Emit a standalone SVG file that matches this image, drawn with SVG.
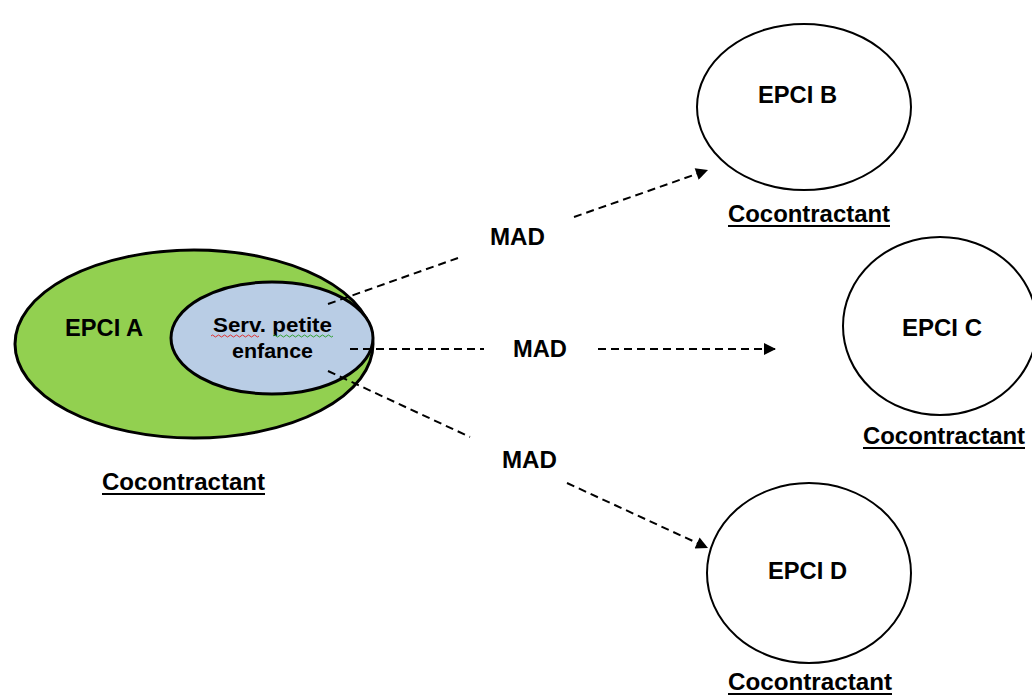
<svg xmlns="http://www.w3.org/2000/svg" width="1032" height="698" viewBox="0 0 1032 698">
  <style>
    .lbl { font-family: "Liberation Sans", Arial, sans-serif; font-weight: bold; fill: #000; }
    .big { font-size: 23px; }
    .mid { font-size: 20px; }
    .ul { stroke: #000; stroke-width: 2; }
    .circle { fill: #fff; stroke: #000; stroke-width: 2; }
    .dash { fill: none; stroke: #000; stroke-width: 2; stroke-dasharray: 8 5; }
  </style>
  <defs>
    <marker id="arrow" viewBox="0 0 10 10" refX="10" refY="5" markerWidth="7" markerHeight="6" markerUnits="strokeWidth" orient="auto">
      <path d="M0,0 L10,5 L0,10 Z" fill="#000"/>
    </marker>
  </defs>
  <rect width="1032" height="698" fill="#fff"/>

  <!-- EPCI A with the petite enfance service inside -->
  <g id="epci-a">
    <ellipse cx="194" cy="344" rx="179" ry="94" fill="#92D050" stroke="#000" stroke-width="3"/>
    <text class="lbl big" x="65" y="336" textLength="78" lengthAdjust="spacingAndGlyphs">EPCI A</text>
    <text class="lbl big" x="102" y="490" textLength="163" lengthAdjust="spacingAndGlyphs">Cocontractant</text>
    <line class="ul" x1="102" y1="494" x2="265" y2="494"/>
  </g>
  <g id="serv-petite-enfance">
    <ellipse cx="272" cy="338" rx="101" ry="56" fill="#B9CDE5" stroke="#000" stroke-width="3"/>
    <text class="lbl mid" x="213" y="332" textLength="119" lengthAdjust="spacingAndGlyphs">Serv. petite</text>
    <text class="lbl mid" x="232" y="358" textLength="81" lengthAdjust="spacingAndGlyphs">enfance</text>
    <path d="M211,336 q1.5,-2 3,0 t3,0 t3,0 t3,0 t3,0 t3,0 t3,0 t3,0 t3,0 t3,0 t3,0 t3,0 t3,0 t3,0 t3,0 t3,0" fill="none" stroke="#e03030" stroke-width="1"/>
    <path d="M273,336 q1.5,-2 3,0 t3,0 t3,0 t3,0 t3,0 t3,0 t3,0 t3,0 t3,0 t3,0 t3,0 t3,0 t3,0 t3,0 t3,0 t3,0 t3,0 t3,0 t3,0 t3,0" fill="none" stroke="#30a030" stroke-width="1"/>
  </g>

  <!-- Receiving EPCIs -->
  <g id="epci-b">
    <ellipse class="circle" cx="804" cy="107" rx="107" ry="83"/>
    <text class="lbl big" x="758" y="103" textLength="79" lengthAdjust="spacingAndGlyphs">EPCI B</text>
    <text class="lbl big" x="728" y="222" textLength="162" lengthAdjust="spacingAndGlyphs">Cocontractant</text>
    <line class="ul" x1="728" y1="226" x2="890" y2="226"/>
  </g>
  <g id="epci-c">
    <ellipse class="circle" cx="940" cy="326" rx="97" ry="89"/>
    <text class="lbl big" x="902" y="336" textLength="80" lengthAdjust="spacingAndGlyphs">EPCI C</text>
    <text class="lbl big" x="863" y="444" textLength="162" lengthAdjust="spacingAndGlyphs">Cocontractant</text>
    <line class="ul" x1="863" y1="448" x2="1025" y2="448"/>
  </g>
  <g id="epci-d">
    <ellipse class="circle" cx="809" cy="573" rx="102" ry="90"/>
    <text class="lbl big" x="768" y="579" textLength="79" lengthAdjust="spacingAndGlyphs">EPCI D</text>
    <text class="lbl big" x="728" y="690" textLength="164" lengthAdjust="spacingAndGlyphs">Cocontractant</text>
    <line class="ul" x1="728" y1="694" x2="892" y2="694"/>
  </g>

  <!-- MAD connectors, broken around their labels -->
  <g id="connectors">
    <line class="dash" x1="328" y1="304" x2="458" y2="258"/>
    <line class="dash" x1="574" y1="217" x2="708" y2="170" marker-end="url(#arrow)"/>
    <text class="lbl big" x="490" y="245" textLength="55" lengthAdjust="spacingAndGlyphs">MAD</text>

    <line class="dash" x1="350" y1="349" x2="484" y2="349"/>
    <line class="dash" x1="598" y1="349" x2="776" y2="349" marker-end="url(#arrow)"/>
    <text class="lbl big" x="513" y="357" textLength="54" lengthAdjust="spacingAndGlyphs">MAD</text>

    <line class="dash" x1="328" y1="371" x2="470" y2="437"/>
    <line class="dash" x1="567" y1="483" x2="708" y2="548" marker-end="url(#arrow)"/>
    <text class="lbl big" x="502" y="468" textLength="55" lengthAdjust="spacingAndGlyphs">MAD</text>
  </g>
</svg>
